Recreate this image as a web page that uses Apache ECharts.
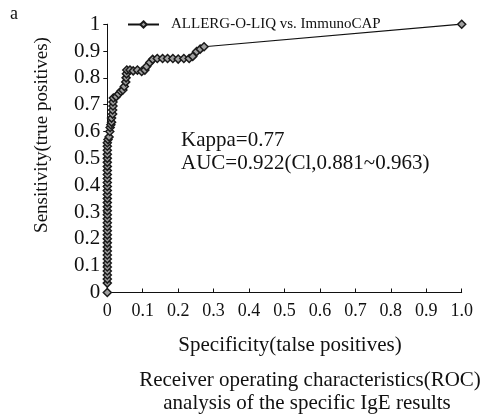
<!DOCTYPE html>
<html>
<head>
<meta charset="utf-8">
<script src="https://cdn.jsdelivr.net/npm/echarts@6/dist/echarts.min.js"></script>
<style>
html,body{margin:0;padding:0;background:#fff;}
#c{width:483px;height:416px;}
</style>
</head>
<body>
<div id="c"></div>
<script>
// ROC points (false positive rate, true positive rate)
const fpr = [0,0,0,0,0,0,0,0,0,0,0,0,0,0,0,0,0,0,0,0,0,0,0,0,0,0,0,0,0,0,0,0,0,0,0,0,0,0.002,
  0.005,0.007,0.008,0.01,0.012,0.012,0.015,0.015,0.016,0.016,0.017,
  0.025,0.032,0.038,0.044,0.048,0.052,0.053,0.054,0.055,
  0.064,0.073,0.085,0.097,0.106,0.111,0.12,0.128,
  0.141,0.156,0.17,0.185,0.2,0.216,0.231,
  0.241,0.252,0.262,0.273,1];
const tpr = [0,0.035,0.05,0.065,0.08,0.095,0.11,0.125,0.14,0.155,0.17,0.185,0.2,0.215,0.23,0.245,0.26,0.275,0.29,0.305,0.32,0.335,0.35,0.365,0.38,0.395,0.41,0.425,0.44,0.455,0.47,0.485,0.5,0.515,0.53,0.545,0.558,0.57,
  0.58,0.6,0.615,0.625,0.635,0.65,0.665,0.68,0.695,0.71,0.725,
  0.73,0.74,0.75,0.755,0.768,0.785,0.8,0.815,0.829,
  0.829,0.826,0.829,0.824,0.829,0.842,0.857,0.869,
  0.872,0.872,0.872,0.872,0.87,0.872,0.872,
  0.88,0.898,0.907,0.916,1];
const seriesName = 'ALLERG-O-LIQ vs. ImmunoCAP';
const tickLabelsX = ['0','0.1','0.2','0.3','0.4','0.5','0.6','0.7','0.8','0.9','1.0'];
const tickLabelsY = ['0','0.1','0.2','0.3','0.4','0.5','0.6','0.7','0.8','0.9','1'];

const FONT = "'Liberation Serif','Times New Roman',serif";
const pts = fpr.map((x,i)=>[x,tpr[i]]);
const chart = echarts.init(document.getElementById('c'), null, {renderer:'canvas'});
chart.setOption({
  animation:false,
  backgroundColor:'#fff',
  grid:{left:107.3, right:21.3, top:24.2, bottom:123.5, containLabel:false},
  legend:{
    left:122, top:12, itemWidth:31, itemHeight:8, itemGap:4,
    textStyle:{fontFamily:FONT, fontSize:15, color:'#111', padding:[0,0,0,7]},
    data:[seriesName]
  },
  xAxis:{
    type:'value', min:0, max:1, interval:0.1,
    axisLine:{show:true, onZero:false, lineStyle:{color:'#111', width:1}},
    axisTick:{show:true, inside:true, length:4, lineStyle:{color:'#111'}},
    splitLine:{show:false},
    axisLabel:{margin:10, fontFamily:FONT, fontSize:18, color:'#111',
      formatter:(v)=>tickLabelsX[Math.round(v*10)]},
    name:''
  },
  yAxis:{
    type:'value', min:0, max:1, interval:0.1,
    axisLine:{show:true, onZero:false, lineStyle:{color:'#111', width:1}},
    axisTick:{show:true, inside:false, length:4, lineStyle:{color:'#111'}},
    splitLine:{show:false},
    axisLabel:{margin:7, fontFamily:FONT, fontSize:21, color:'#111',
      formatter:(v)=>tickLabelsY[Math.round(v*10)]},
    name:''
  },
  graphic:[
    {type:'text', left:10, top:5, style:{text:'a', font:"18px "+FONT, fill:'#111'}},
    {type:'text', x:42, y:135, rotation:Math.PI/2, style:{text:'Sensitivity(true positives)', font:"19px "+FONT, fill:'#111', align:'center', verticalAlign:'middle'}},
    {type:'text', x:290, y:345, style:{text:'Specificity(talse positives)', font:"21px "+FONT, fill:'#111', align:'center', verticalAlign:'middle'}},
    {type:'text', x:181, y:140, style:{text:'Kappa=0.77', font:"21px "+FONT, fill:'#111', verticalAlign:'middle'}},
    {type:'text', x:181, y:163, style:{text:'AUC=0.922(Cl,0.881~0.963)', font:"21px "+FONT, fill:'#111', verticalAlign:'middle'}},
    {type:'text', x:310, y:380, style:{text:'Receiver operating characteristics(ROC)', font:"21px "+FONT, fill:'#111', align:'center', verticalAlign:'middle'}},
    {type:'text', x:307, y:403, style:{text:'analysis of the specific IgE results', font:"21px "+FONT, fill:'#111', align:'center', verticalAlign:'middle'}}
  ],
  series:[{
    name:seriesName, type:'line', data:pts,
    symbol:'diamond', symbolSize:8, showAllSymbol:true,
    lineStyle:{color:'#111', width:1.2},
    itemStyle:{color:'#a0a0a0', borderColor:'#1a1a1a', borderWidth:1.5},
    z:3
  }]
});
</script>
</body>
</html>
